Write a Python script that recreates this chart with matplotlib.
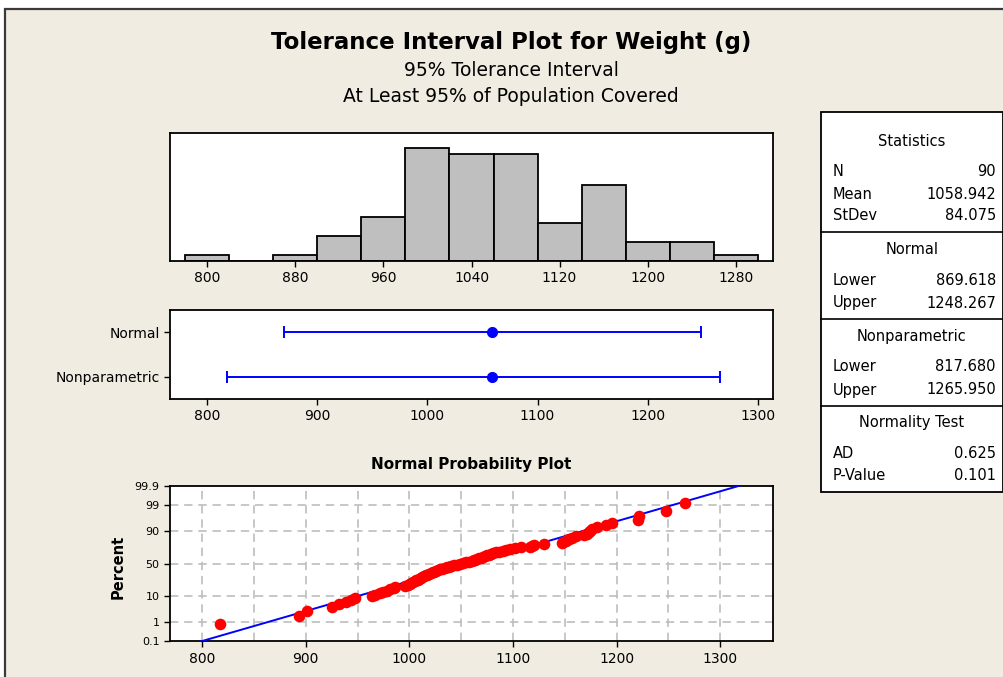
import math
import numpy as np
import matplotlib
matplotlib.use("Agg")
import matplotlib.pyplot as plt
from matplotlib.patches import Rectangle
from matplotlib.lines import Line2D

plt.rcParams['font.family'] = ['DejaVu Sans']

# ---------------- data ----------------
weights = [
    817.68, 893.2,
    901.3, 925.5, 932.3, 938.8,
    943.7, 947.9, 964.0, 967.0, 971.7, 975.0, 978.2,
    981.4, 985.5, 986.5, 995.8, 999.0, 1000.7, 1002.0, 1003.5, 1005.0,
    1006.5, 1008.0, 1009.5, 1011.0, 1012.5, 1014.0, 1016.0, 1017.5, 1019.0,
    1021.0, 1022.5, 1024.0, 1026.0, 1028.0, 1030.0, 1031.5, 1034.0, 1036.0,
    1038.0, 1040.0, 1043.0, 1046.0, 1049.0, 1052.0, 1055.0, 1058.0,
    1060.5, 1062.0, 1063.5, 1065.0, 1067.0, 1069.0, 1071.0, 1073.0, 1075.0,
    1077.0, 1079.0, 1081.0, 1084.0, 1087.0, 1090.0, 1093.0, 1097.0,
    1102.0, 1107.9, 1116.0, 1118.5, 1120.0, 1130.3,
    1147.6, 1148.5, 1150.8, 1152.5, 1154.1, 1157.3, 1160.5, 1168.6, 1171.8,
    1173.0, 1174.5, 1176.7,
    1181.5, 1189.6, 1196.0,
    1221.0, 1222.0, 1247.5,
    1265.95,
]
n_obs = 90
mean_w = 1058.942
stdev_w = 84.075

interval_names = ['Normal', 'Nonparametric']
interval_lower = [869.618, 817.680]
interval_upper = [1248.267, 1265.950]
interval_center = [1058.942, 1058.942]

hist_ticks = [800, 880, 960, 1040, 1120, 1200, 1280]
interval_ticks = [800, 900, 1000, 1100, 1200, 1300]
prob_xticks = [800, 900, 1000, 1100, 1200, 1300]
prob_yticks = [0.1, 1, 10, 50, 90, 99, 99.9]
prob_ytick_labels = ['0.1', '1', '10', '50', '90', '99', '99.9']

table_rows = [
    ('header', 'Statistics', None),
    ('row', 'N', '90'),
    ('row', 'Mean', '1058.942'),
    ('row', 'StDev', '84.075'),
    ('header', 'Normal', None),
    ('row', 'Lower', '869.618'),
    ('row', 'Upper', '1248.267'),
    ('header', 'Nonparametric', None),
    ('row', 'Lower', '817.680'),
    ('row', 'Upper', '1265.950'),
    ('header', 'Normality Test', None),
    ('row', 'AD', '0.625'),
    ('row', 'P-Value', '0.101'),
]
table_y = [141, 171, 194, 216, 249, 280, 303, 336, 367, 390, 422, 453, 476]
table_sep_y = [232, 319, 406]

# ---------------- helpers ----------------
W, H = 1004, 677
def fx(x):
    return x / W
def fy(y):
    return 1 - y / H

_a = [-3.969683028665376e+01, 2.209460984245205e+02, -2.759285104469687e+02,
      1.383577518672690e+02, -3.066479806614716e+01, 2.506628277459239e+00]
_b = [-5.447609879822406e+01, 1.615858368580409e+02, -1.556989798598866e+02,
      6.680131188771972e+01, -1.328068155288572e+01]
_c = [-7.784894002430293e-03, -3.223964580411365e-01, -2.400758277161838e+00,
      -2.549671348283429e+00, 4.374664141464968e+00, 2.938163982698783e+00]
_d = [7.784695709041462e-03, 3.224671290700398e-01, 2.445134137142996e+00,
      3.754408661907416e+00]

def _ppf_scalar(p):
    plow = 0.02425
    if p < plow:
        q = math.sqrt(-2 * math.log(p))
        return (((((_c[0]*q+_c[1])*q+_c[2])*q+_c[3])*q+_c[4])*q+_c[5]) / \
               ((((_d[0]*q+_d[1])*q+_d[2])*q+_d[3])*q+1)
    if p > 1 - plow:
        q = math.sqrt(-2 * math.log(1 - p))
        return -(((((_c[0]*q+_c[1])*q+_c[2])*q+_c[3])*q+_c[4])*q+_c[5]) / \
                ((((_d[0]*q+_d[1])*q+_d[2])*q+_d[3])*q+1)
    q = p - 0.5
    r = q * q
    return (((((_a[0]*r+_a[1])*r+_a[2])*r+_a[3])*r+_a[4])*r+_a[5])*q / \
           (((((_b[0]*r+_b[1])*r+_b[2])*r+_b[3])*r+_b[4])*r+1)

def pct_to_z(v):
    v = np.asarray(v, dtype=float)
    p = np.clip(v / 100.0, 1e-12, 1 - 1e-12)
    return np.vectorize(_ppf_scalar, otypes=[float])(p)

def z_to_pct(z):
    z = np.asarray(z, dtype=float)
    return 100.0 * 0.5 * (1 + np.vectorize(math.erf, otypes=[float])(z / math.sqrt(2)))

# ---------------- figure ----------------
BG = '#F0ECE1'
fig = plt.figure(figsize=(W / 100, H / 100), dpi=100, facecolor='white')
fig.patches.append(Rectangle((fx(4.5), -0.02), 1.2, fy(8.5) + 0.02,
                             transform=fig.transFigure, facecolor=BG,
                             edgecolor='#3a3a3a', linewidth=1.6, zorder=-10))

fig.text(fx(511), fy(42), 'Tolerance Interval Plot for Weight (g)', ha='center',
         va='center', fontsize=16.5, fontweight='bold')
fig.text(fx(511), fy(70), '95% Tolerance Interval', ha='center', va='center',
         fontsize=13.5)
fig.text(fx(511), fy(97), 'At Least 95% of Population Covered', ha='center',
         va='center', fontsize=13.5)

AX_L, AX_R = 170, 773

def style_axes(ax):
    for s in ax.spines.values():
        s.set_linewidth(1.3)
        s.set_color('black')
    ax.set_facecolor('white')
    ax.tick_params(direction='out', length=4, width=1, colors='black',
                   labelsize=10)

# Histogram
ax1 = fig.add_axes([fx(AX_L), fy(261), fx(AX_R) - fx(AX_L), fy(133) - fy(261)])
style_axes(ax1)
ax1.hist(weights, bins=np.arange(780, 1301, 40), color='#BFBFBF',
         edgecolor='black', linewidth=1.3)
ax1.set_xlim(766, 1314)
ax1.set_ylim(0, 20.3)
ax1.set_yticks([])
ax1.set_xticks(hist_ticks)
ax1.set_xticklabels([str(t) for t in hist_ticks])

# Interval plot
ax2 = fig.add_axes([fx(AX_L), fy(399), fx(AX_R) - fx(AX_L), fy(310) - fy(399)])
style_axes(ax2)
ypos = np.arange(len(interval_names))
lo_err = np.array(interval_center) - np.array(interval_lower)
hi_err = np.array(interval_upper) - np.array(interval_center)
ax2.errorbar(interval_center, ypos, xerr=[lo_err, hi_err], fmt='o',
             color='#0000FF', ecolor='#0000FF', elinewidth=1.4, capsize=4,
             capthick=1.4, markersize=7)
ax2.set_ylim(1.5, -0.5)
ax2.set_yticks(ypos)
ax2.set_yticklabels(interval_names)
ax2.set_xlim(766, 1314)
ax2.set_xticks(interval_ticks)

# Normal probability plot
ax3 = fig.add_axes([fx(AX_L), fy(641.3), fx(AX_R) - fx(AX_L), fy(485.7) - fy(641.3)])
style_axes(ax3)
ax3.set_yscale('function', functions=(pct_to_z, z_to_pct))
ax3.set_ylim(0.1, 99.9)
ax3.set_xlim(769, 1351)
sorted_w = np.sort(np.array(weights))
ranks = np.arange(1, len(sorted_w) + 1)
plot_pos = 100.0 * (ranks - 0.3) / (len(sorted_w) + 0.4)
zline = np.linspace(-3.3, 3.3, 50)
ax3.plot(mean_w + stdev_w * zline, z_to_pct(zline), color='#0000FF', lw=1.4,
         zorder=3)
ax3.scatter(sorted_w, plot_pos, s=70, color='#FF0000', zorder=4, linewidths=0)
for gx in np.arange(800, 1301, 50):
    ax3.axvline(gx, color='#BDBDBD', ls=(0, (5, 3.5)), lw=1.2, zorder=1)
for gy in [1, 10, 50, 90, 99]:
    ax3.axhline(gy, color='#BDBDBD', ls=(0, (5, 3.5)), lw=1.2, zorder=1)
ax3.set_yticks(prob_yticks)
ax3.set_yticklabels(prob_ytick_labels)
ax3.yaxis.set_minor_locator(matplotlib.ticker.NullLocator())
ax3.tick_params(axis='y', labelsize=8)
ax3.set_xticks(prob_xticks)
ax3.set_title('Normal Probability Plot', fontsize=11, fontweight='bold', pad=12)
fig.text(fx(118), fy(567), 'Percent', rotation=90, ha='center', va='center',
         fontsize=10.5, fontweight='bold')

# Statistics table
TB_L, TB_R, TB_T, TB_B = 821, 1003, 112, 492
fig.patches.append(Rectangle((fx(TB_L), fy(TB_B)), fx(TB_R) - fx(TB_L),
                             fy(TB_T) - fy(TB_B), transform=fig.transFigure,
                             facecolor='white', edgecolor='black', linewidth=1.3,
                             zorder=1))
for sy in table_sep_y:
    fig.add_artist(Line2D([fx(TB_L), fx(TB_R)], [fy(sy), fy(sy)],
                          transform=fig.transFigure, color='black', lw=1.2))
for (kind, label, value), ty in zip(table_rows, table_y):
    if kind == 'header':
        fig.text(fx((TB_L + TB_R) / 2), fy(ty), label, ha='center', va='center',
                 fontsize=10.5)
    else:
        fig.text(fx(833), fy(ty), label, ha='left', va='center', fontsize=10.5)
        fig.text(fx(996), fy(ty), value, ha='right', va='center', fontsize=10.5)

fig.savefig('out.png', dpi=100, facecolor=fig.get_facecolor())
